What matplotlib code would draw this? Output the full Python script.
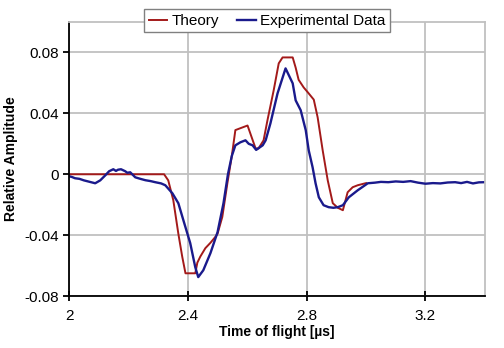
import matplotlib
matplotlib.use('Agg')
import matplotlib.pyplot as plt

plt.rcParams['font.family'] = ['Liberation Sans', 'DejaVu Sans']

# time of flight [us] and relative amplitude, theory curve
theory_t = [2.000, 2.320, 2.334, 2.351, 2.368, 2.381, 2.392, 2.425, 2.432, 2.442,
            2.459, 2.476, 2.493, 2.500, 2.516, 2.533, 2.548, 2.560, 2.601, 2.628,
            2.638, 2.655, 2.668, 2.689, 2.706, 2.719, 2.753, 2.763, 2.773, 2.790,
            2.803, 2.824, 2.837, 2.854, 2.871, 2.888, 2.905, 2.922, 2.938, 2.955,
            2.972, 3.000]
theory_a = [0.0, 0.0, -0.004, -0.017, -0.039, -0.054, -0.065, -0.065, -0.058, -0.054,
            -0.0485, -0.045, -0.041, -0.039, -0.028, -0.006, 0.012, 0.029, 0.032, 0.017,
            0.017, 0.0223, 0.0354, 0.0551, 0.0728, 0.0767, 0.0767, 0.070, 0.0620, 0.0570,
            0.0540, 0.0490, 0.0374, 0.0157, -0.004, -0.019, -0.022, -0.0236, -0.0118, -0.0085,
            -0.0072, -0.0058]

# measured signal
exp_t = [2.000, 2.010, 2.020, 2.035, 2.050, 2.070, 2.088, 2.105, 2.122, 2.135,
         2.149, 2.158, 2.165, 2.175, 2.189, 2.196, 2.206, 2.223, 2.240, 2.257,
         2.275, 2.290, 2.310, 2.324, 2.348, 2.368, 2.385, 2.408, 2.425, 2.435,
         2.452, 2.476, 2.500, 2.520, 2.535, 2.548, 2.560, 2.577, 2.594, 2.605,
         2.618, 2.630, 2.652, 2.662, 2.678, 2.702, 2.729, 2.753, 2.763, 2.780,
         2.797, 2.807, 2.820, 2.830, 2.841, 2.857, 2.874, 2.890, 2.905, 2.922,
         2.942, 2.972, 3.006, 3.030, 3.050, 3.075, 3.100, 3.125, 3.150, 3.175,
         3.200, 3.225, 3.250, 3.275, 3.300, 3.320, 3.340, 3.360, 3.380, 3.400]
exp_a = [-0.0013, -0.0018, -0.0026, -0.0030, -0.0040, -0.0050, -0.0059, -0.0040, -0.0007, 0.0020,
         0.0033, 0.0022, 0.0030, 0.0033, 0.0020, 0.0010, 0.0013, -0.0020, -0.0030, -0.0039,
         -0.0045, -0.0052, -0.0060, -0.0072, -0.0125, -0.0190, -0.0302, -0.0452, -0.0610, -0.0675,
         -0.0630, -0.0518, -0.0380, -0.0190, 0.0000, 0.0120, 0.0190, 0.0210, 0.0223, 0.0200,
         0.0190, 0.0160, 0.0190, 0.0223, 0.0334, 0.0531, 0.0695, 0.0597, 0.0485, 0.0420,
         0.0289, 0.0157, 0.0046, -0.0059, -0.0151, -0.0203, -0.0216, -0.0220, -0.0216, -0.0203,
         -0.0151, -0.0105, -0.0059, -0.0055, -0.0050, -0.0052, -0.0047, -0.0050, -0.0045, -0.0055,
         -0.0062, -0.0058, -0.0060, -0.0054, -0.0052, -0.0058, -0.0050, -0.0060, -0.0053, -0.0052]

fig = plt.figure(figsize=(5.04, 3.48), dpi=100)
ax = fig.add_axes([0.137, 0.149, 0.825, 0.788])

ax.plot(theory_t, theory_a, color='#a31a1a', lw=1.4, label='Theory')
ax.plot(exp_t, exp_a, color='#1a1a8c', lw=1.7, label='Experimental Data')

ax.set_xlim(2, 3.4)
ax.set_ylim(-0.08, 0.1)
ax.set_xticks([2, 2.4, 2.8, 3.2])
ax.set_xticklabels(['2', '2.4', '2.8', '3.2'])
ax.set_yticks([-0.08, -0.04, 0, 0.04, 0.08])
ax.set_yticklabels(['-0.08', '-0.04', '0', '0.04', '0.08'])
ax.grid(True, color='#c0c0c0', lw=1.3)
ax.set_axisbelow(True)

for side in ['top', 'right']:
    ax.spines[side].set_color('#c0c0c0')
    ax.spines[side].set_linewidth(1.3)
for side in ['left', 'bottom']:
    ax.spines[side].set_color('black')
    ax.spines[side].set_linewidth(1.3)

ax.tick_params(axis='x', direction='inout', length=7, width=1.3, labelsize=11, pad=6)
ax.tick_params(axis='y', direction='out', length=4, width=1.3, labelsize=11)

ax.set_xlabel('Time of flight [µs]', fontsize=10, fontweight='bold', labelpad=1)
ax.set_ylabel('Relative Amplitude', fontsize=10, fontweight='bold', labelpad=4)

leg = fig.legend(loc='center', bbox_to_anchor=(0.530, 0.940), ncol=2, fontsize=11,
                 frameon=True, fancybox=False, edgecolor='#808080', framealpha=1,
                 handlelength=1.2, handletextpad=0.3, columnspacing=1.2,
                 borderpad=0.3)
leg.get_frame().set_linewidth(1.0)

fig.savefig('out.png', dpi=100)
